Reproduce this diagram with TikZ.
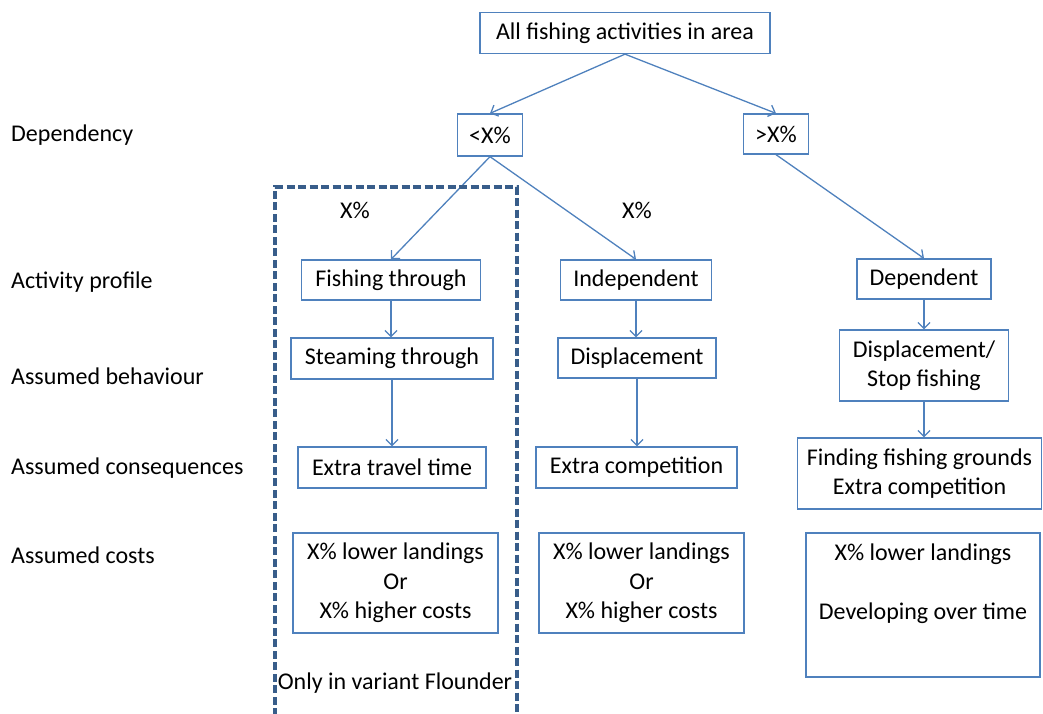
\documentclass[tikz,border=0pt]{standalone}
\usepackage{fontspec}
\setmainfont{Carlito}
\usetikzlibrary{arrows.meta}

\definecolor{boxblue}{HTML}{4F81BD}
\definecolor{dashblue}{HTML}{385D8A}

\begin{document}
\begin{tikzpicture}[x = 1pt, y = -1pt, font = \fontsize{24}{29.5}\selectfont,
	box/.style = {draw = boxblue, line width = 1.3pt, align = center, inner sep = 0pt},
	flow/.style = {draw = boxblue, line width = 1.3pt, -{Straight Barb[length = 6pt, width = 12pt]}},
	region/.style = {draw = dashblue, line width = 3.2pt, dash pattern = on 8pt off 3.5pt}]

	\useasboundingbox (0, 0) rectangle (1043, 713);

	% Row labels

	\foreach \y/\t [count = \i] in {135/Dependency, 282/Activity profile, 376/Assumed behaviour,
		468/Assumed consequences, 555/Assumed costs}
		\node [anchor = west, inner sep = 0pt] (row\i) at (11, \y) {\t};

	% Dependency

	\node [box, minimum width = 290, minimum height = 41] (all) at (625, 33) {All fishing activities in area};
	\node [box, minimum width = 65, minimum height = 42] (lt) at (490, 135) {<X\%};
	\node [box, minimum width = 65, minimum height = 40] (gt) at (776, 134) {>X\%};

	\node (pctL) at (355, 210) {X\%};
	\node (pctR) at (637, 210) {X\%};

	% Activity profile

	\node [box, minimum width = 179, minimum height = 40] (fish) at (391, 280) {Fishing through};
	\node [box, minimum width = 151, minimum height = 40] (indep) at (636, 280) {Independent};
	\node [box, minimum width = 134, minimum height = 40] (dep) at (924, 279) {Dependent};

	% Assumed behaviour

	\node [box, minimum width = 202, minimum height = 41] (steam) at (392, 358.5) {Steaming through};
	\node [box, minimum width = 158, minimum height = 40] (displ) at (637, 358) {Displacement};
	\node [box, minimum width = 169, minimum height = 71] (stop) at (924, 365.5) {Displacement/\\Stop fishing};

	% Assumed consequences

	\node [box, minimum width = 188, minimum height = 41] (travel) at (392, 467.5) {Extra travel time};
	\node [box, minimum width = 201, minimum height = 41] (compet) at (636.5, 467.5) {Extra competition};
	\node [box, minimum width = 244, minimum height = 71] (grounds) at (919.5, 473.5) {Finding fishing grounds\\Extra competition};

	% Assumed costs

	\node [box, minimum width = 205, minimum height = 100] (costL) at (395.5, 583) {X\% lower landings\\Or\\X\% higher costs};
	\node [box, minimum width = 205, minimum height = 100] (costM) at (641.5, 583) {X\% lower landings\\Or\\X\% higher costs};
	\node [box, minimum width = 234, minimum height = 144] (costR) at (923, 605) {};
	\node [align = center] (costRtext) at (923, 584) {X\% lower landings\\[29.5pt]Developing over time};

	\node (only) at (395, 683) {Only in variant Flounder};

	% Draw connectors

	\draw [flow] (all.south) -- (lt.north);
	\draw [flow] (all.south) -- (gt.north);
	\draw [flow] (lt.south) -- (fish.north);
	\draw [flow] (lt.south) -- (indep.north);
	\draw [flow] (gt.south) -- (dep.north);

	\draw [flow] (fish.south) -- (fish.south |- steam.north);
	\draw [flow] (steam.south) -- (travel.north);
	\draw [flow] (indep.south) -- (indep.south |- displ.north);
	\draw [flow] (displ.south) -- (displ.south |- compet.north);
	\draw [flow] (dep.south) -- (stop.north);
	\draw [flow] (stop.south) -- (stop.south |- grounds.north);

	% Dashed region

	\draw [region] (275, 716) -- (275, 187) -- (517, 187) -- (517, 716);

\end{tikzpicture}
\end{document}
